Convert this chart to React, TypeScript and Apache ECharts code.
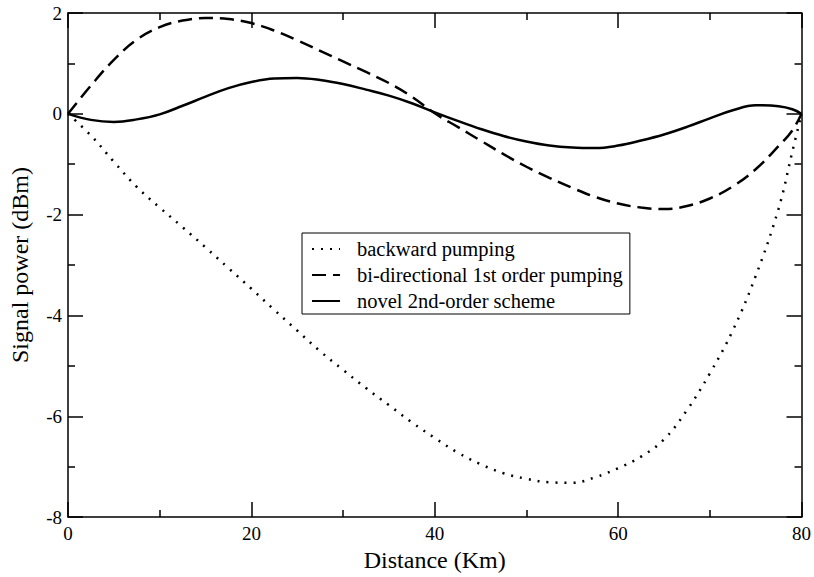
import React, { useEffect, useRef } from "react";
import * as echarts from "echarts";

const distance = [0, 2.5, 5, 7.5, 10, 12.5, 15, 17.5, 20, 22.5, 25, 27.5, 30, 32.5, 35, 37.5, 40, 42.5, 45, 47.5, 50, 52.5, 55, 57.5, 60, 62.5, 65, 67.5, 70, 72.5, 75, 77.5, 79, 80];

const backward = [0, -0.43, -0.95, -1.45, -1.86, -2.25, -2.65, -3.06, -3.47, -3.89, -4.3, -4.71, -5.08, -5.44, -5.78, -6.12, -6.43, -6.72, -6.95, -7.13, -7.24, -7.31, -7.32, -7.21, -7.03, -6.8, -6.46, -5.88, -5.15, -4.3, -3.22, -1.88, -0.75, 0];

const bidirectional = [0, 0.56, 1.07, 1.47, 1.72, 1.85, 1.9, 1.88, 1.8, 1.65, 1.46, 1.25, 1.04, 0.83, 0.61, 0.34, 0.01, -0.26, -0.53, -0.8, -1.05, -1.27, -1.47, -1.65, -1.78, -1.86, -1.89, -1.83, -1.68, -1.44, -1.1, -0.64, -0.33, 0];

const novel = [0, -0.12, -0.16, -0.11, -0.01, 0.16, 0.34, 0.51, 0.63, 0.7, 0.71, 0.67, 0.59, 0.48, 0.36, 0.21, 0.03, -0.14, -0.3, -0.44, -0.55, -0.63, -0.67, -0.68, -0.63, -0.53, -0.41, -0.26, -0.09, 0.07, 0.17, 0.15, 0.09, 0];

const seriesNames = ["backward pumping", "bi-directional 1st order pumping", "novel 2nd-order scheme"];
const xAxisTitle = "Distance (Km)";
const yAxisTitle = "Signal power (dBm)";

const FONT = "Liberation Serif";

export default function App() {
  const ref = useRef<HTMLDivElement>(null);

  useEffect(() => {
    if (!ref.current) return;
    const chart = echarts.init(ref.current, undefined, { renderer: "svg" });

    const axisLine = { show: true, onZero: false, lineStyle: { color: "#000", width: 1.5 } };
    const axisTick = { show: true, inside: true, length: 15, lineStyle: { color: "#000", width: 1.5 } };
    const minorTick = { show: true, splitNumber: 2, length: 7, lineStyle: { color: "#000", width: 1.5 } };
    const labelStyle = { color: "#000", fontFamily: FONT, fontSize: 19 };
    const nameStyle = { color: "#000", fontFamily: FONT, fontSize: 24 };

    const mk = (vals: number[]) => distance.map((d, i) => [d, vals[i]]);

    const option: any = {
      animation: false,
      backgroundColor: "#fff",
      textStyle: { fontFamily: FONT },
      grid: { left: 67, top: 13, right: 11, bottom: 50, containLabel: false },
      legend: {
        orient: "vertical",
        left: 302,
        top: 233,
        selectedMode: false,
        borderColor: "#000",
        borderWidth: 1,
        borderRadius: 0,
        padding: [4, 7, 1, 9],
        itemWidth: 28,
        itemHeight: 14,
        itemGap: 2,
        itemStyle: { color: "rgba(0,0,0,0)", borderColor: "rgba(0,0,0,0)", borderWidth: 0, opacity: 0 },
        textStyle: { color: "#000", fontFamily: FONT, fontSize: 20.5, lineHeight: 24, padding: [0, 0, 0, 12] },
        data: seriesNames,
      },
      xAxis: [
        {
          type: "value",
          position: "bottom",
          min: 0,
          max: 80,
          interval: 20,
          axisLine,
          axisTick,
          minorTick,
          splitLine: { show: false },
          minorSplitLine: { show: false },
          axisLabel: { ...labelStyle, margin: 7 },
          name: xAxisTitle,
          nameLocation: "middle",
          nameGap: 28,
          nameTextStyle: nameStyle,
        },
        {
          type: "value",
          position: "top",
          min: 0,
          max: 80,
          interval: 20,
          axisLine,
          axisTick,
          minorTick,
          splitLine: { show: false },
          axisLabel: { show: false },
        },
      ],
      yAxis: [
        {
          type: "value",
          position: "left",
          min: -8,
          max: 2,
          interval: 2,
          axisLine,
          axisTick,
          minorTick,
          splitLine: { show: false },
          minorSplitLine: { show: false },
          axisLabel: { ...labelStyle, margin: 6 },
          name: yAxisTitle,
          nameLocation: "middle",
          nameRotate: 90,
          nameGap: 36,
          nameTextStyle: nameStyle,
        },
        {
          type: "value",
          position: "right",
          min: -8,
          max: 2,
          interval: 2,
          axisLine,
          axisTick,
          minorTick,
          splitLine: { show: false },
          axisLabel: { show: false },
        },
      ],
      series: [
        {
          name: seriesNames[0],
          type: "line",
          data: mk(backward),
          symbol: "none",
          showSymbol: false,
          smooth: 0.4,
          lineStyle: { color: "#000", width: 2.5, type: [2, 7] },
          itemStyle: { color: "#000" },
        },
        {
          name: seriesNames[1],
          type: "line",
          data: mk(bidirectional),
          symbol: "none",
          showSymbol: false,
          smooth: 0.4,
          lineStyle: { color: "#000", width: 2.5, type: [14, 7] },
          itemStyle: { color: "#000" },
        },
        {
          name: seriesNames[2],
          type: "line",
          data: mk(novel),
          symbol: "none",
          showSymbol: false,
          smooth: 0.4,
          lineStyle: { color: "#000", width: 2.5, type: "solid" },
          itemStyle: { color: "#000" },
        },
      ],
    };

    chart.setOption(option);
    return () => chart.dispose();
  }, []);

  return (
    <div
      ref={ref}
      style={{ position: "absolute", left: 0, top: 0, width: 814, height: 577, background: "#fff" }}
    />
  );
}
